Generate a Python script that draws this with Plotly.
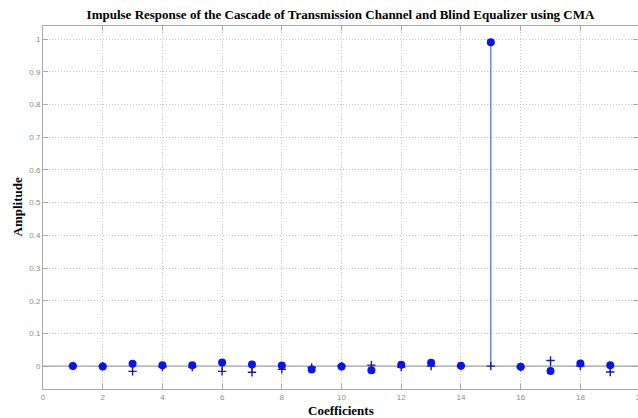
import plotly.graph_objects as go

# Equalized impulse response: coefficient index and amplitudes
coefficients = list(range(1, 21))
cascade_amplitude = [0.000, -0.001, 0.007, 0.003, 0.003, 0.011, 0.005, 0.002, -0.010, -0.001,
                     -0.013, 0.004, 0.010, 0.001, 0.990, -0.002, -0.015, 0.008, 0.003, 0.000]
reference_amplitude = [0.000, 0.000, -0.016, -0.002, -0.003, -0.016, -0.019, -0.010, -0.004, 0.000,
                       0.003, -0.003, 0.000, 0.000, 0.000, -0.003, 0.017, 0.000, -0.018, 0.000]

x_ticks = list(range(0, 21, 2))
y_ticks = [round(0.1 * i, 1) for i in range(11)]
y_tick_text = ["0" if v == 0 else ("1" if v == 1 else f"{v:g}") for v in y_ticks]

X_RANGE = [0, 19.93]
TICK_FONT = dict(family="Liberation Sans, Arial, sans-serif", size=8, color="#8c8c8c")
LABEL_FONT = dict(family="Liberation Serif, Times New Roman, serif", size=13, color="#000000")
AXIS_GRAY = "#a8a8a8"


def stem_path(xs, ys):
    sx, sy = [], []
    for xv, yv in zip(xs, ys):
        sx += [xv, xv, None]
        sy += [0, yv, None]
    return sx, sy


fig = go.Figure()

# stems
for vals, col in [(reference_amplitude, "#2a2a9a"), (cascade_amplitude, "#5563d6")]:
    sx, sy = stem_path(coefficients, vals)
    fig.add_trace(go.Scatter(x=sx, y=sy, mode="lines", line=dict(color=col, width=1.2),
                             hoverinfo="skip", showlegend=False, cliponaxis=False))

# '+' markers
fig.add_trace(go.Scatter(
    x=coefficients, y=reference_amplitude, mode="markers", showlegend=False, cliponaxis=False,
    marker=dict(symbol="cross-thin", size=6, line=dict(color="#1c1c8c", width=1.4))))

# filled circles
fig.add_trace(go.Scatter(
    x=coefficients, y=cascade_amplitude, mode="markers", showlegend=False, cliponaxis=False,
    marker=dict(symbol="circle", size=8, color="#0a14e6", line=dict(width=0))))

axis_common = dict(
    showline=True, linecolor=AXIS_GRAY, linewidth=1, mirror="ticks",
    ticks="inside", ticklen=5, tickcolor=AXIS_GRAY, tickwidth=1,
    showgrid=True, gridcolor="#c4c4c4", gridwidth=1, griddash="1px,2px",
    zeroline=False, tickfont=TICK_FONT,
)

fig.update_xaxes(range=X_RANGE, tickvals=x_ticks, ticktext=[str(v) for v in x_ticks], **axis_common)
fig.update_yaxes(range=[-0.07, 1.04], tickvals=y_ticks, ticktext=y_tick_text, **axis_common)

# stem baseline
fig.add_shape(type="line", xref="paper", x0=0, x1=1, yref="y", y0=0, y1=0,
              line=dict(color="#9a9a9a", width=1.2), layer="below")

fig.update_layout(
    width=638, height=418,
    margin=dict(l=43, r=0, t=26, b=29),
    paper_bgcolor="white", plot_bgcolor="white",
    title=dict(text="<b>Impulse Response of the Cascade of Transmission Channel and Blind Equalizer using CMA</b>",
               font=LABEL_FONT, x=0.5, xanchor="center", xref="paper", y=1 - 14 / 418, yanchor="middle"),
)

# axis labels
fig.add_annotation(text="<b>Coefficients</b>", xref="paper", yref="paper", x=0.5, y=-21 / 363,
                   xanchor="center", yanchor="middle", showarrow=False, font=LABEL_FONT)
fig.add_annotation(text="<b>Amplitude</b>", xref="paper", yref="paper", x=-26 / 595, y=0.5,
                   xanchor="center", yanchor="middle", textangle=-90, showarrow=False, font=LABEL_FONT)
# last tick label sits on the right edge of the page
fig.add_annotation(text=str(x_ticks[-1]), xref="paper", yref="paper",
                   x=x_ticks[-1] / X_RANGE[1], y=-8 / 363,
                   xanchor="center", yanchor="middle", showarrow=False, font=TICK_FONT)

fig.write_html("out.html")
